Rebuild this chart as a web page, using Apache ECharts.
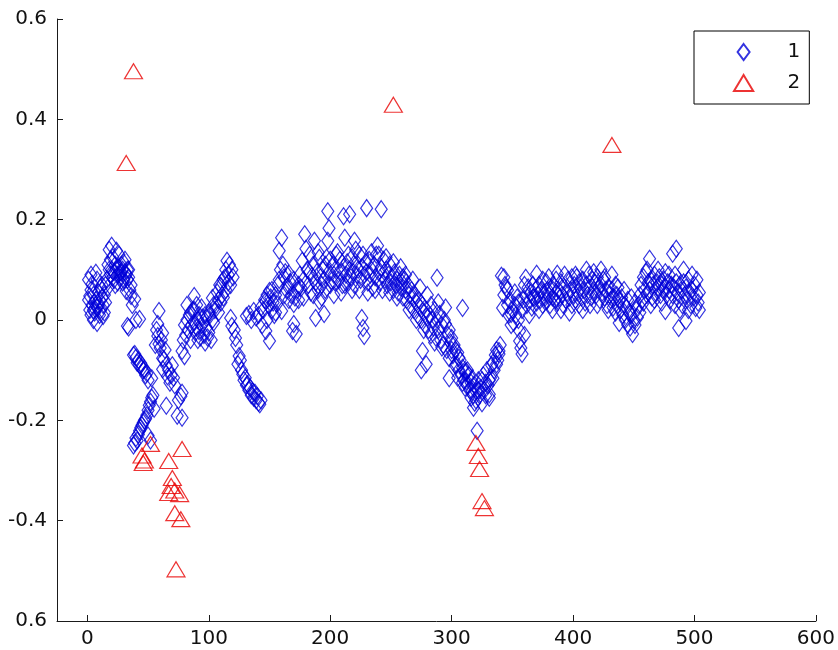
<!DOCTYPE html>
<html>
<head>
<meta charset="utf-8">
<script src="https://cdn.jsdelivr.net/npm/echarts@6/dist/echarts.min.js"></script>
<style>
  html, body { margin: 0; padding: 0; background: #fff; }
  #chart { width: 838px; height: 650px; }
</style>
</head>
<body>
<div id="chart"></div>
<script>
// Series "1": sample index vs. value (diamonds)
const pointsA = [
  [1,0.04],[2,0.02],[2,0.048],[3,0.06],[3,0.01],[4,0.072],[4,0.03],[5,0.02],[5,0.05],[6,0.035],[6,0.015],
  [7,0.094],[7,0.04],[8,-0.006],[8,0.025],[9,0.055],[9,0.03],[10,0.04],[10,0.01],[11,0.065],[11,0.02],
  [12,0.045],[13,0.03],[13,0.008],[14,0.05],[15,0.07],[15,0.035],
  [1,0.08],[3,0.09],[5,0.0],[8,0.08],[12,0.07],[14,0.015],
  [16,0.08],[17,0.11],[17,0.065],[18,0.14],[19,0.12],[19,0.09],[20,0.148],[20,0.1],[21,0.125],[22,0.095],
  [22,0.08],[23,0.11],[24,0.138],[24,0.1],[25,0.09],[25,0.075],[26,0.105],[27,0.095],[27,0.085],[28,0.094],
  [28,0.11],[29,0.1],[30,0.114],[30,0.08],[31,0.095],[32,0.09],[33,0.08],[33,0.1],[34,0.085],[35,0.06],[36,0.07],
  [18,0.1],[21,0.085],[23,0.07],[26,0.13],[29,0.075],[31,0.12],[34,0.1],
  [32,0.058],[33,-0.012],[34,-0.015],[36,0.048],[37,0.03],[39,0.042],[40,0.0],[43,0.002],
  [38,-0.07],[39,-0.068],[40,-0.075],[41,-0.085],[42,-0.08],[43,-0.09],[44,-0.086],[45,-0.095],[46,-0.1],
  [47,-0.098],[48,-0.11],[49,-0.106],[50,-0.12],[53,-0.116],
  [38,-0.25],[39,-0.245],[40,-0.235],[41,-0.24],[42,-0.228],[43,-0.221],[44,-0.215],[45,-0.21],[46,-0.205],
  [47,-0.2],[48,-0.197],[49,-0.19],[50,-0.18],[51,-0.17],[52,-0.163],[53,-0.155],[55,-0.177],[54,-0.15],
  [50,-0.23],[52,-0.24],
  [56,-0.05],[57,-0.02],[58,-0.008],[58,-0.032],[59,0.018],[59,-0.048],[60,-0.056],[61,-0.04],[62,-0.026],
  [62,-0.076],[62,-0.098],[63,-0.078],[64,-0.06],[65,-0.171],[65,-0.09],[66,-0.112],[67,-0.1],[68,-0.125],
  [69,-0.11],[70,-0.09],[71,-0.115],[72,-0.13],[74,-0.191],[75,-0.16],[77,-0.152],[78,-0.195],[78,-0.145],
  [78,-0.062],[79,-0.04],[80,-0.072],[80,-0.01],
  [81,-0.03],[82,0.0],[83,-0.02],[84,0.01],[85,-0.04],[86,-0.01],[87,0.02],[88,0.048],[88,-0.005],[89,-0.025],
  [90,0.03],[90,-0.015],[91,0.0],[92,-0.022],[92,0.01],[93,-0.035],[94,-0.01],[95,0.005],[96,-0.03],[97,-0.045],
  [98,-0.015],[98,0.004],[99,-0.035],[100,-0.025],[101,0.01],[102,-0.04],[103,0.044],[104,-0.005],[105,0.02],
  [82,0.03],[85,0.015],[88,0.02],[91,-0.04],[94,0.025],[97,0.01],[100,0.015],[103,0.0],[104,0.03],
  [106,0.03],[107,0.055],[108,0.04],[109,0.07],[110,0.068],[111,0.05],[112,0.08],[113,0.084],[114,0.1],
  [115,0.118],[116,0.09],[117,0.11],[118,0.004],[119,0.1],[119,-0.012],[120,0.085],[121,-0.02],[122,-0.036],
  [123,-0.05],[124,-0.088],[125,-0.072],[126,-0.08],
  [108,0.015],[110,0.035],[112,0.045],[114,0.06],[116,0.075],[118,0.07],
  [127,-0.1],[128,-0.108],[129,-0.12],[130,-0.115],[131,-0.13],[132,-0.128],[133,-0.14],[134,-0.135],
  [135,-0.15],[136,-0.142],[137,-0.155],[138,-0.145],[139,-0.16],[140,-0.152],[141,-0.165],[142,-0.168],[143,-0.16],
  [131,0.008],[133,0.012],[135,0.0],[137,0.018],[139,0.005],[141,0.01],[143,0.025],[144,-0.01],[145,0.02],
  [146,0.04],[147,0.038],[147,-0.022],[148,0.05],[149,0.03],[150,0.058],[150,-0.042],[151,0.045],[152,0.02],
  [153,0.035],[154,0.01],[155,0.05],[156,0.032],[157,0.07],[158,0.138],[159,0.1],[160,0.164],[160,0.018],
  [161,0.11],[162,0.085],[163,0.095],[164,0.06],[165,0.068],[166,0.092],[167,0.075],[168,0.05],[169,-0.022],
  [170,0.032],[170,-0.008],[171,0.045],[172,-0.028],[173,0.06],[174,0.07],
  [148,0.0],[152,0.06],[155,0.015],[158,0.08],[162,0.05],[166,0.04],[170,0.08],[174,0.04],
  [175,0.09],[176,0.064],[177,0.118],[178,0.08],[179,0.171],[180,0.142],[181,0.1],[182,0.07],[183,0.095],
  [184,0.055],[185,0.088],[186,0.11],[187,0.158],[188,0.004],[188,0.075],[189,0.095],[190,0.06],[191,0.124],
  [191,0.038],[192,0.085],[193,0.07],[194,0.1],[195,0.012],[195,0.08],[196,0.06],[197,0.124],[198,0.217],
  [198,0.158],[199,0.183],[199,0.095],[200,0.07],[201,0.078],[202,0.11],[203,0.09],[204,0.075],[205,0.13],
  [178,0.045],[183,0.13],[186,0.05],[190,0.135],[193,0.045],[196,0.11],[200,0.12],[203,0.05],
  [206,0.1],[207,0.08],[208,0.12],[209,0.095],[210,0.07],[211,0.207],[211,0.105],[212,0.164],[213,0.09],
  [214,0.115],[215,0.075],[216,0.211],[216,0.1],[217,0.085],[218,0.125],[219,0.095],[220,0.158],[220,0.07],
  [221,0.11],[222,0.09],[223,0.1],[224,0.13],[225,0.08],[226,0.004],[226,0.105],[227,-0.016],[228,-0.032],
  [228,0.09],[229,0.115],[230,0.223],[230,0.095],[231,0.075],[232,0.12],[233,0.09],[234,0.1],[235,0.065],
  [236,0.11],[237,0.085],[238,0.13],[239,0.148],[240,0.095],[241,0.075],[242,0.221],[242,0.105],[243,0.09],
  [244,0.12],[245,0.08],[246,0.1],[247,0.07],[248,0.09],[249,0.11],[250,0.075],[251,0.085],[252,0.06],
  [253,0.095],[254,0.07],[255,0.08],[256,0.055],[257,0.09],[258,0.065],[259,0.075],[260,0.045],
  [206,0.135],[209,0.055],[212,0.07],[215,0.13],[218,0.06],[221,0.14],[224,0.06],[227,0.13],[231,0.055],
  [234,0.135],[237,0.06],[240,0.13],[243,0.06],[246,0.125],[249,0.055],[252,0.115],[255,0.045],[258,0.105],[260,0.085],
  [261,0.08],[262,0.06],[263,0.04],[264,0.07],[265,0.05],[266,0.03],[267,0.06],[268,0.045],[269,0.02],
  [270,0.05],[271,0.035],[272,0.01],[273,0.04],[274,0.025],[275,-0.1],[275,0.0],[276,-0.062],[276,0.03],
  [277,0.015],[278,-0.01],[279,-0.088],[279,0.02],[280,0.005],[281,-0.02],[282,0.01],[283,-0.03],[284,0.0],
  [285,-0.015],[286,0.02],[287,-0.035],[288,0.084],[288,0.0],[289,-0.02],[290,0.012],[291,-0.04],[292,-0.01],
  [293,-0.05],[294,0.0],[295,-0.008],[296,-0.06],[297,-0.03],[298,-0.076],[298,-0.116],[299,-0.045],[300,-0.036],
  [262,0.09],[265,0.02],[268,0.08],[271,0.0],[274,0.065],[277,-0.02],[280,0.05],[283,0.03],[286,-0.045],
  [289,0.035],[292,-0.055],[295,0.025],[298,-0.02],[300,-0.06],
  [301,-0.07],[302,-0.05],[303,-0.09],[304,-0.088],[305,-0.065],[306,-0.1],[307,-0.08],[308,-0.11],[309,0.024],
  [309,-0.095],[310,-0.12],[311,-0.105],[312,-0.102],[312,-0.122],[313,-0.13],[314,-0.11],[315,-0.14],
  [316,-0.125],[317,-0.116],[317,-0.142],[318,-0.175],[318,-0.15],[319,-0.13],[320,-0.142],[320,-0.16],
  [321,-0.221],[322,-0.12],[323,-0.15],[324,-0.135],[325,-0.166],[326,-0.11],[327,-0.14],[328,-0.125],
  [329,-0.1],[330,-0.13],[331,-0.148],[331,-0.155],[332,-0.115],[333,-0.09],[334,-0.116],[335,-0.1],
  [336,-0.07],[337,-0.088],[338,-0.08],[339,-0.062],[339,-0.068],[340,-0.05],
  [303,-0.06],[305,-0.115],[306,-0.075],[309,-0.125],[311,-0.135],[313,-0.1],[316,-0.155],[319,-0.165],
  [322,-0.14],[325,-0.12],[328,-0.15],[331,-0.12],[334,-0.085],[337,-0.06],
  [341,0.088],[342,0.024],[343,0.05],[344,0.07],[345,0.064],[346,0.03],[347,0.01],[348,0.04],[349,0.012],
  [350,0.02],[351,-0.005],[352,0.03],[353,0.01],[354,0.045],[355,0.0],[356,-0.022],[356,-0.042],[357,-0.056],
  [358,-0.068],[358,0.02],[359,0.04],[360,-0.03],[361,0.084],[361,0.05],[362,0.03],[363,0.065],[364,0.04],
  [365,0.055],[366,0.025],[367,0.07],[368,0.045],[369,0.06],[370,0.092],[370,0.035],[371,0.05],[372,0.07],
  [373,0.04],[374,0.06],[375,0.03],[376,0.055],[377,0.045],[378,0.038],[378,0.075],[379,0.06],[380,0.05],
  [381,0.03],[382,0.065],[383,0.045],[384,0.07],[385,0.04],[386,0.055],[387,0.092],[387,0.035],[388,0.06],
  [389,0.045],[390,0.075],[391,0.05],[392,0.03],[393,0.065],[394,0.04],[395,0.055],[396,0.08],[397,0.045],
  [398,0.06],[399,0.03],[400,0.05],
  [343,0.085],[346,0.06],[349,-0.01],[352,0.055],[355,0.035],[360,0.07],[364,0.01],[367,0.045],[372,0.02],
  [375,0.08],[380,0.085],[383,0.02],[386,0.08],[390,0.02],[393,0.09],[397,0.015],[399,0.085],
  [401,0.07],[402,0.04],[403,0.085],[404,0.055],[405,0.03],[406,0.065],[407,0.045],[408,0.08],[409,0.06],
  [410,0.035],[411,0.07],[412,0.05],[413,0.09],[414,0.065],[415,0.045],[416,0.08],[417,0.06],[418,0.075],
  [419,0.05],[420,0.085],[421,0.065],[422,0.04],[423,0.07],[424,0.055],[425,0.08],[426,0.045],[427,0.06],
  [428,0.03],[429,0.065],[430,0.05],[431,0.04],[432,0.06],[433,0.025],[434,0.045],[435,0.015],[436,0.05],
  [437,0.03],[438,-0.006],[438,0.04],
  [402,0.09],[405,0.075],[408,0.02],[411,0.1],[414,0.03],[417,0.095],[420,0.03],[423,0.1],[426,0.085],
  [429,0.02],[432,0.09],[435,0.07],[437,0.065],
  [439,0.02],[440,0.045],[441,0.01],[442,0.03],[443,0.0],[444,0.025],[445,-0.01],[446,0.015],[447,-0.015],
  [448,0.01],[449,-0.028],[450,0.0],[451,-0.01],[452,0.02],[453,0.005],[454,0.03],[455,0.05],
  [456,0.07],[457,0.04],[458,0.085],[459,0.06],[460,0.095],[461,0.05],[462,0.075],[463,0.122],[463,0.06],
  [464,0.08],[465,0.045],[466,0.07],[467,0.09],[468,0.055],[469,0.075],[470,0.065],[471,0.085],[472,0.05],
  [473,0.07],[474,0.06],[475,0.08],[476,0.018],[476,0.065],[477,0.05],[478,0.075],[479,0.06],[480,0.04],
  [481,0.07],[482,0.132],[482,0.05],[483,0.065],[484,0.03],[485,0.142],[485,0.075],[486,0.055],[487,-0.016],
  [487,0.04],[488,0.07],[489,0.06],[490,0.03],[491,0.075],[492,0.05],[493,-0.002],[493,0.065],[494,0.04],
  [495,0.08],[496,0.055],[497,0.03],[498,0.06],[499,0.045],[500,0.07],[501,0.024],[502,0.05],[503,0.035],[504,0.055],
  [442,0.06],[445,0.04],[448,0.045],[451,0.035],[455,0.015],[458,0.035],[461,0.1],[464,0.03],[467,0.04],
  [470,0.1],[473,0.035],[476,0.095],[479,0.09],[484,0.09],[488,0.02],[491,0.1],[495,0.02],[498,0.09],
  [502,0.08],[504,0.02]
];

// Series "2": outlying samples (triangles)
const pointsB = [
  [32,0.313],[38,0.496],[45,-0.27],[46,-0.285],[47,-0.28],[52,-0.247],[67,-0.281],[67,-0.345],[69,-0.331],
  [70,-0.315],[72,-0.34],[76,-0.347],[72,-0.385],[77,-0.397],[73,-0.497],[78,-0.257],
  [252,0.429],[320,-0.245],[322,-0.271],[323,-0.297],[325,-0.361],[327,-0.375],[432,0.349]
];

const seriesNames = ['1', '2'];
const xTicks = [0, 100, 200, 300, 400, 500, 600];
const yTickLabels = ['0.6', '-0.4', '-0.2', '0', '0.2', '0.4', '0.6'];

const FONT = 'DejaVu Sans';
const AXIS_COLOR = '#1a1a1a';
const BLUE = '#0000d8';
const RED = '#e80000';

const chart = echarts.init(document.getElementById('chart'), null, { renderer: 'canvas' });

chart.setOption({
  animation: false,
  backgroundColor: '#ffffff',
  grid: { left: 57, right: 21, top: 19, bottom: 29, containLabel: false },
  xAxis: {
    type: 'value',
    min: -25,
    max: 600,
    splitLine: { show: false },
    axisLine: { show: true, onZero: false, lineStyle: { color: AXIS_COLOR, width: 1 } },
    axisTick: { show: true, inside: true, length: 6, customValues: xTicks, lineStyle: { color: AXIS_COLOR } },
    axisLabel: {
      customValues: xTicks,
      color: '#111', fontFamily: FONT, fontSize: 20, margin: 8
    }
  },
  yAxis: {
    type: 'value',
    min: -0.6,
    max: 0.6,
    interval: 0.2,
    splitLine: { show: false },
    axisLine: { show: true, onZero: false, lineStyle: { color: AXIS_COLOR, width: 1 } },
    axisTick: { show: true, inside: true, length: 6, lineStyle: { color: AXIS_COLOR } },
    axisLabel: {
      color: '#111', fontFamily: FONT, fontSize: 20, margin: 10,
      formatter: (v, i) => yTickLabels[i] !== undefined ? yTickLabels[i] : ''
    }
  },
  legend: {
    orient: 'vertical',
    left: 694,
    top: 31,
    padding: [11, 9, 11, 39],
    itemWidth: 78,
    itemHeight: 16,
    itemGap: 11,
    backgroundColor: '#ffffff',
    borderColor: '#000000',
    borderWidth: 1,
    borderRadius: 0,
    symbolKeepAspect: true,
    textStyle: { fontFamily: FONT, fontSize: 20, color: '#111' },
    data: [
      { name: seriesNames[0], icon: 'path://M6,0L12,8L6,16L0,8Z' },
      { name: seriesNames[1], icon: 'path://M9,0L18,15L0,15Z' }
    ]
  },
  series: [
    {
      name: seriesNames[0],
      type: 'scatter',
      data: pointsA,
      symbol: 'diamond',
      symbolSize: [12, 17],
      itemStyle: { color: 'rgba(0,0,0,0)', borderColor: BLUE, borderWidth: 1.2 },
      emphasis: { disabled: true }
    },
    {
      name: seriesNames[1],
      type: 'scatter',
      data: pointsB,
      symbol: 'triangle',
      symbolSize: [18, 15],
      itemStyle: { color: 'rgba(0,0,0,0)', borderColor: RED, borderWidth: 1.2 },
      emphasis: { disabled: true }
    }
  ]
});
</script>
</body>
</html>
